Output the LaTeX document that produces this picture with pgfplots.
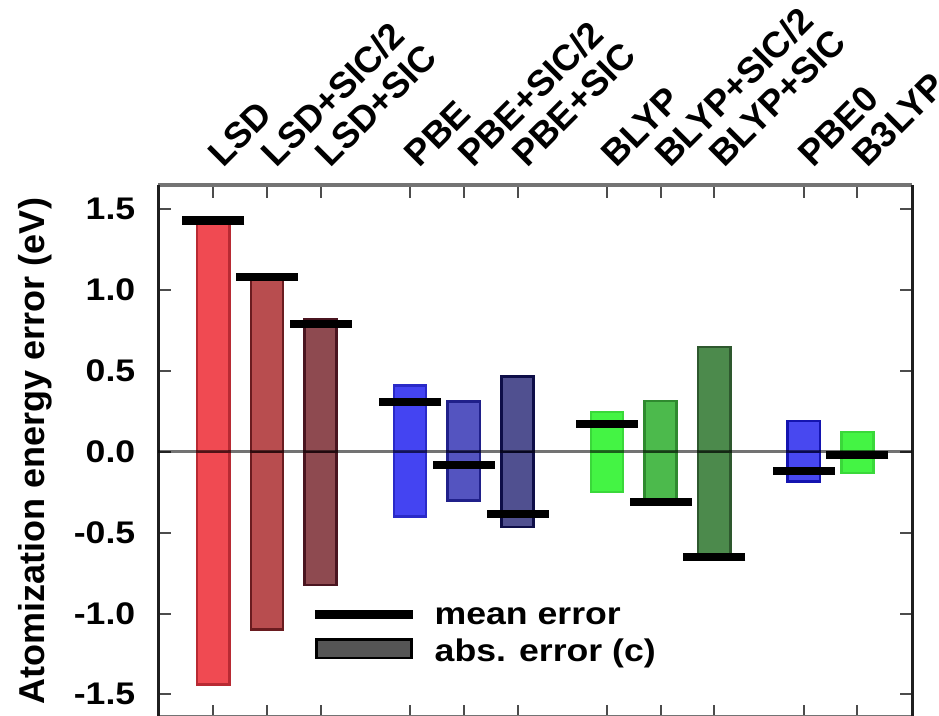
\documentclass[border=0pt]{standalone}
\usepackage{pgfplots}
\pgfplotsset{compat=1.18}
\usepackage{fontspec}
\setmainfont{Liberation Sans}[FakeStretch=1.14]
\newfontfamily\plainfont{Liberation Sans}
\definecolor{cLSD}{HTML}{F04A52}\definecolor{dLSD}{HTML}{B82A33}
\definecolor{cLSDh}{HTML}{B84D4F}\definecolor{dLSDh}{HTML}{6A1C20}
\definecolor{cLSDf}{HTML}{8E4A50}\definecolor{dLSDf}{HTML}{4A1520}
\definecolor{cPBE}{HTML}{4444F2}\definecolor{dPBE}{HTML}{2A2AC8}
\definecolor{cPBEh}{HTML}{5454C0}\definecolor{dPBEh}{HTML}{20208A}
\definecolor{cPBEf}{HTML}{505090}\definecolor{dPBEf}{HTML}{0E0E48}
\definecolor{cBL}{HTML}{44F444}\definecolor{dBL}{HTML}{3AD83A}
\definecolor{cBLh}{HTML}{4CBA4C}\definecolor{dBLh}{HTML}{2F8A2F}
\definecolor{cBLf}{HTML}{4C8A4C}\definecolor{dBLf}{HTML}{2E582E}
\definecolor{cPBE0}{HTML}{4848F0}\definecolor{dPBE0}{HTML}{1414B0}
\definecolor{legbox}{HTML}{555555}
\begin{document}
\begin{tikzpicture}
\begin{axis}[
  name=ax,
  scale only axis, width=301.6pt, height=212.8pt,
  xmin=-1.025, xmax=13.02, ymin=-1.64, ymax=1.65,
  separate axis lines,
  x axis line style={draw=black!55, line width=1.3pt},
  y axis line style={draw=black!88, line width=1.3pt},
  tick align=inside, major tick length=5pt,
  every tick/.style={black!70, line width=0.8pt},
  xtick={0,1,2,3.667,4.667,5.667,7.333,8.333,9.333,11,12},
  xticklabels={LSD,LSD+SIC/2,LSD+SIC,PBE,PBE+SIC/2,PBE+SIC,BLYP,BLYP+SIC/2,BLYP+SIC,PBE0,B3LYP},
  xticklabel pos=upper,
  xtick pos=both,
  xticklabel shift=0pt,
  xticklabel style={xshift=3.8pt, yshift=6.4pt, rotate=45, anchor=base west, inner sep=0pt, font=\plainfont\bfseries\fontsize{14.5}{15}\selectfont},
  ytick={-1.5,-1,-0.5,0,0.5,1,1.5},
  ytick pos=both,
  yticklabel pos=left,
  /pgf/number format/assume math mode=true,
  yticklabel style={/pgf/number format/.cd, fixed, fixed zerofill, precision=1, /tikz/.cd, inner sep=0pt, xshift=-9pt, font=\bfseries\fontsize{12.5}{14}\selectfont},
  ylabel={Atomization energy error (eV)},
  ylabel style={at={(axis description cs:-0.1635,0.5)}, anchor=center, font=\plainfont\bfseries\fontsize{14.4}{16}\selectfont},
  legend style={draw=none, fill=none, at={(axis cs:1.81,-1.14)}, anchor=west, inner sep=0pt,
    font=\bfseries\fontsize{12.5}{14}\selectfont, row sep=0.4pt,
    /tikz/every odd column/.append style={column sep=5.2pt}},
  legend cell align=left,
]
% absolute error bars (from -abs to +abs)
\addplot[ybar, bar width=0.6, bar shift=0pt, fill=cLSD, draw=dLSD, line width=1pt, forget plot] coordinates {(0,1.44) (0,-1.44)};
\addplot[ybar, bar width=0.6, bar shift=0pt, fill=cLSDh, draw=dLSDh, line width=1pt, forget plot] coordinates {(1,1.10) (1,-1.10)};
\addplot[ybar, bar width=0.6, bar shift=0pt, fill=cLSDf, draw=dLSDf, line width=1pt, forget plot] coordinates {(2,0.82) (2,-0.825)};
\addplot[ybar, bar width=0.6, bar shift=0pt, fill=cPBE, draw=dPBE, line width=1pt, forget plot] coordinates {(3.667,0.41) (3.667,-0.40)};
\addplot[ybar, bar width=0.6, bar shift=0pt, fill=cPBEh, draw=dPBEh, line width=1pt, forget plot] coordinates {(4.667,0.31) (4.667,-0.30)};
\addplot[ybar, bar width=0.6, bar shift=0pt, fill=cPBEf, draw=dPBEf, line width=1pt, forget plot] coordinates {(5.667,0.465) (5.667,-0.465)};
\addplot[ybar, bar width=0.6, bar shift=0pt, fill=cBL, draw=dBL, line width=1pt, forget plot] coordinates {(7.333,0.247) (7.333,-0.247)};
\addplot[ybar, bar width=0.6, bar shift=0pt, fill=cBLh, draw=dBLh, line width=1pt, forget plot] coordinates {(8.333,0.315) (8.333,-0.31)};
\addplot[ybar, bar width=0.6, bar shift=0pt, fill=cBLf, draw=dBLf, line width=1pt, forget plot] coordinates {(9.333,0.648) (9.333,-0.64)};
\addplot[ybar, bar width=0.6, bar shift=0pt, fill=cPBE0, draw=dPBE0, line width=1pt, forget plot] coordinates {(11,0.19) (11,-0.185)};
\addplot[ybar, bar width=0.6, bar shift=0pt, fill=cBL, draw=dBL, line width=1pt, forget plot] coordinates {(12,0.124) (12,-0.13)};
% zero line
\addplot[black, opacity=0.55, line width=1.2pt, forget plot] coordinates {(-1.025,0) (13.02,0)};
% mean errors
\addplot[only marks, mark=-, mark size=12.4pt, mark options={line width=3.3pt, black}, forget plot] coordinates {
 (0,1.431) (1,1.083) (2,0.79) (3.667,0.309) (4.667,-0.082) (5.667,-0.385)
 (7.333,0.171) (8.333,-0.309) (9.333,-0.649) (11,-0.119) (12,-0.02)};
\addlegendimage{legend image code/.code={\draw[line width=3.3pt, black] (0pt,1.2pt) -- (39pt,1.2pt);}}
\addlegendentry{mean error}
\addlegendimage{legend image code/.code={\draw[fill=legbox, draw=black, line width=1pt] (0.5pt,-2.5pt) rectangle (38.5pt,4.9pt);}}
\addlegendentry{abs. error (c)}
\end{axis}
\pgfresetboundingbox
\path[use as bounding box] ([xshift=-63.3pt, yshift=0.8pt]ax.south west) rectangle ([xshift=10.7pt, yshift=74pt]ax.north east);
\end{tikzpicture}
\end{document}
